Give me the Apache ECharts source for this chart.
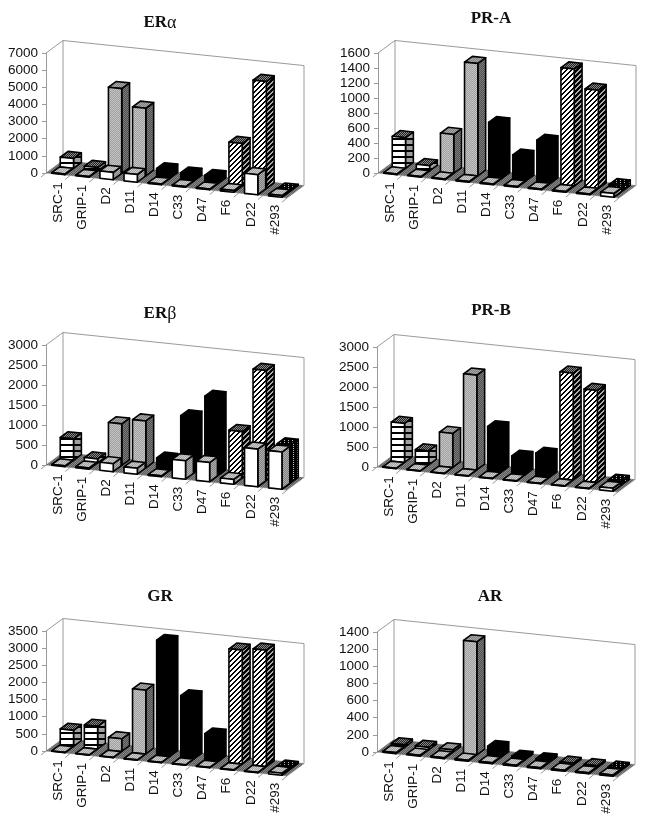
<!DOCTYPE html>
<html><head><meta charset="utf-8">
<style>html,body{margin:0;padding:0;background:#fff}#c{width:652px;height:823px}</style>
<script src="https://cdn.jsdelivr.net/npm/echarts@6/dist/echarts.min.js"></script>
</head><body><div id="c"></div>
<script>
const categories = ['SRC-1','GRIP-1','D2','D11','D14','C33','D47','F6','D22','#293'];
const barKinds = ['stripe','stripe','gray','gray','black','black','black','hatch','hatch','dots'];

const eraBack  = [580,200,4950,3950,500,400,400,2480,6240,50];
const eraFront = [40,40,430,450,40,40,40,100,1170,100];
const erbBack  = [540,100,1040,1175,280,1400,1950,1160,2750,950];
const erbFront = [20,30,200,150,20,460,480,120,940,930];
const prAback  = [410,70,520,1500,730,330,560,1560,1310,70];
const prAfront = [10,10,10,10,10,10,10,10,10,50];
const prBback  = [975,350,850,2370,1115,440,575,2670,2300,90];
const prBfront = [10,10,10,10,10,10,10,10,10,75];
const grBack   = [470,660,370,1860,3350,1810,770,3320,3390,50];
const grFront  = [10,10,10,10,10,10,10,10,10,60];
const arBack   = [30,30,30,1320,115,30,30,20,20,20];
const arFront  = [12,12,12,12,12,12,12,12,12,15];

const panels = [
  {title:'ER{a|α}', cx:155, ty:9, left:46, top:53, back:eraBack, front:eraFront, max:7000, step:1000},
  {title:'PR-A', cx:486, ty:5, left:378, top:53, back:prAback, front:prAfront, max:1600, step:200},
  {title:'ER{a|β}', cx:155, ty:300, left:46, top:345, back:erbBack, front:erbFront, max:3000, step:500},
  {title:'PR-B', cx:486, ty:297, left:377, top:347, back:prBback, front:prBfront, max:3000, step:500},
  {title:'GR', cx:155, ty:583, left:46, top:631, back:grBack, front:grFront, max:3500, step:500},
  {title:'AR', cx:485, ty:583, left:377, top:632, back:arBack, front:arFront, max:1400, step:200}
];

const DX = 17, DY = -12.5, SLOPE = 0.104, BAR = 13.3, GW = 241, GH = 120;
const AX = '#9a9a9a';

function pat(w, h, f) {
  const c = document.createElement('canvas'); c.width = w; c.height = h;
  const g = c.getContext('2d');
  for (let y = 0; y < h; y++) for (let x = 0; x < w; x++) { g.fillStyle = f(x, y); g.fillRect(x, y, 1, 1); }
  return {type:'pattern', image:c, repeat:'repeat'};
}
const dith = (a, b) => pat(2, 2, (x, y) => (x + y) % 2 ? a : b);
const floorFill = dith('#5c5c5c', '#868686');
const styles = {
  white: {front:'#fff', top:dith('#a4a4a4','#cccccc'), side:dith('#808080','#b0b0b0')},
  gray:  {front:dith('#a0a0a0','#c4c4c4'), top:dith('#808080','#a8a8a8'), side:dith('#505050','#7c7c7c')},
  black: {front:'#000', top:'#000', side:'#000'},
  stripe:{front:pat(6,6,(x,y)=>y%6<2?'#000':'#fff'), top:dith('#222','#888'), side:pat(2,6,(x,y)=>y%6<2?'#000':'#a0a0a0')},
  hatch: {front:pat(5,5,(x,y)=>(x+y)%5<2?'#000':'#fff'), top:dith('#222','#888'), side:pat(5,5,(x,y)=>(x+y)%5<3?'#000':'#aaa')},
  dots:  {front:pat(4,4,(x,y)=>(x%4==0&&y%2==0)?'#ddd':'#000'), top:pat(4,4,(x,y)=>(x%4==0&&y%2==0)?'#bbb':'#000'), side:pat(4,4,(x,y)=>(x%4==1&&y%2==0)?'#bbb':'#000')}
};

function poly(points, fill) {
  return {type:'polygon', shape:{points}, style:{fill, stroke:'#000', lineWidth:1.6, lineJoin:'round'}};
}
function barRender(d0, d1, kindOf) {
  return function (params, api) {
    const i = api.value(0), v = api.value(1);
    const base = api.coord([i, 0]), topP = api.coord([i, v]);
    const x0 = params.coordSys.x;
    const xl = base[0] - BAR / 2, xr = base[0] + BAR / 2;
    const h = base[1] - topP[1];
    const P = (x, d, up) => [x + d * DX, base[1] + (x - x0) * SLOPE + d * DY - up];
    const s = styles[kindOf(i)];
    return {type:'group', children:[
      poly([P(xr,d0,0),P(xr,d1,0),P(xr,d1,h),P(xr,d0,h)], s.side),
      poly([P(xl,d0,h),P(xr,d0,h),P(xr,d1,h),P(xl,d1,h)], s.top),
      poly([P(xl,d0,0),P(xr,d0,0),P(xr,d0,h),P(xl,d0,h)], s.front)
    ]};
  };
}
function wallRender(params, api) {
  const c = params.coordSys, x0 = c.x, yB = c.y + c.height, yT = c.y, W = c.width;
  const e = SLOPE * W;
  const line = (a, b) => ({type:'line', shape:{x1:a[0],y1:a[1],x2:b[0],y2:b[1]}, style:{stroke:AX, lineWidth:1}});
  const kids = [
    {type:'polygon', shape:{points:[[x0,yB],[x0+DX,yB+DY],[x0+W+DX,yB+e+DY],[x0+W,yB+e]]}, style:{fill:floorFill, stroke:'#777', lineWidth:0.5}},
    line([x0,yT],[x0+DX,yT+DY]),
    line([x0+DX,yT+DY],[x0+DX,yB+DY]),
    line([x0+DX,yT+DY],[x0+W+DX,yT+e+DY]),
    line([x0+W+DX,yT+e+DY],[x0+W+DX,yB+e+DY])
  ];
  for (let k = 0; k <= categories.length; k++) {
    const x = x0 + k * W / categories.length, y = yB + (x - x0) * SLOPE;
    kids.push(line([x, y], [x - 5, y + 4]));
  }
  return {type:'group', children:kids};
}
function labelRender(params, api) {
  const i = api.value(0), p = api.coord([i, 0]);
  const y = p[1] + (p[0] - params.coordSys.x) * SLOPE + 8;
  return {type:'text', x:p[0], y:y, rotation:Math.PI/2, style:{
    text:categories[i], align:'right', verticalAlign:'middle',
    font:'13.5px "Liberation Sans"', fill:'#111'}};
}

const option = {animation:false, backgroundColor:'#fff', title:[], grid:[], xAxis:[], yAxis:[], series:[]};
panels.forEach((p, n) => {
  option.title.push({
    text:p.title, left:p.cx, top:p.ty, textAlign:'center',
    textStyle:{fontFamily:'Liberation Serif', fontWeight:'bold', fontSize:17, color:'#111',
      rich:{a:{fontFamily:'Liberation Serif', fontWeight:'normal', fontSize:18, color:'#111'}}}
  });
  option.grid.push({left:p.left, top:p.top, width:GW, height:GH, containLabel:false});
  option.xAxis.push({type:'category', gridIndex:n, data:categories, boundaryGap:true,
    axisLine:{show:false}, axisTick:{show:false}, axisLabel:{show:false}, splitLine:{show:false}});
  option.yAxis.push({type:'value', gridIndex:n, min:0, max:p.max, interval:p.step,
    axisLine:{show:true, lineStyle:{color:AX}}, axisTick:{show:true, length:4, lineStyle:{color:AX}},
    axisLabel:{margin:8, fontFamily:'Liberation Sans', fontSize:13.5, color:'#111', formatter:v=>String(v)}, splitLine:{show:false}});
  const common = {type:'custom', coordinateSystem:'cartesian2d', xAxisIndex:n, yAxisIndex:n, silent:true, clip:false, encode:{x:0,y:1}};
  option.series.push(Object.assign({}, common, {name:'wall'+n, z:2, renderItem:wallRender, data:[[0,0]]}));
  option.series.push(Object.assign({}, common, {name:'back'+n, z:3, renderItem:barRender(0.52,0.98,i=>barKinds[i]), data:p.back.map((v,i)=>[i,v])}));
  option.series.push(Object.assign({}, common, {name:'front'+n, z:4, renderItem:barRender(0.02,0.48,()=>'white'), data:p.front.map((v,i)=>[i,v])}));
  option.series.push(Object.assign({}, common, {name:'labels'+n, z:5, renderItem:labelRender, data:categories.map((c,i)=>[i,0])}));
});
const chart = echarts.init(document.getElementById('c'), null, {renderer:'canvas'});
chart.setOption(option);
</script></body></html>
